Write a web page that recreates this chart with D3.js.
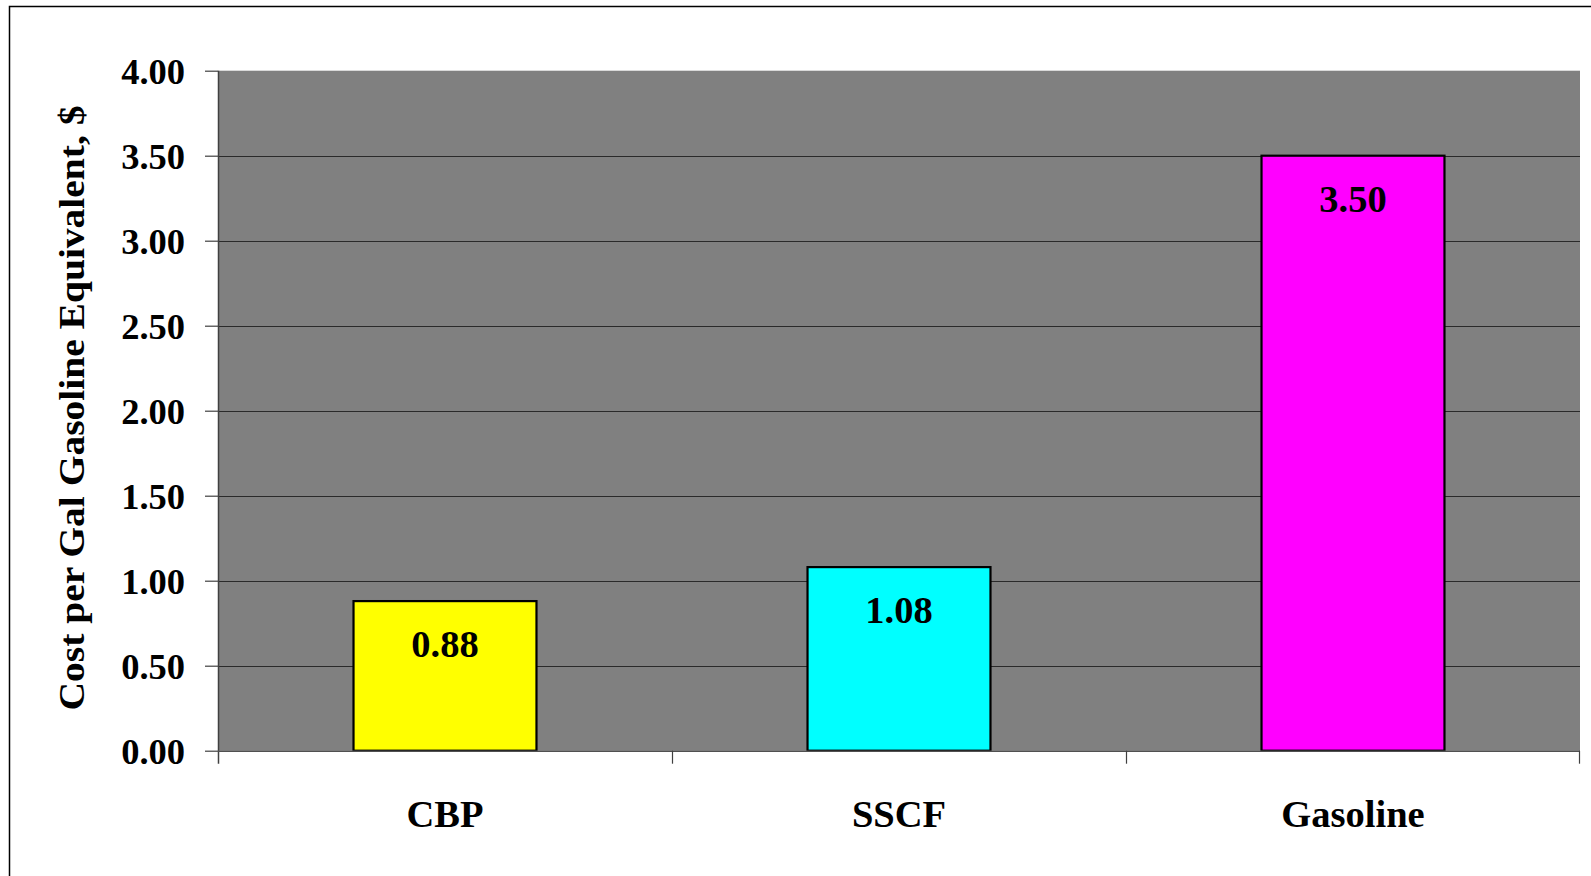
<!DOCTYPE html>
<html><head><meta charset="utf-8">
<script src="https://cdn.jsdelivr.net/npm/d3@7"></script>
<style>html,body{margin:0;padding:0;background:#fff;overflow:hidden}</style>
</head><body>
<svg id="chart" width="1591" height="876"></svg>
<script>
const categories = ["CBP", "SSCF", "Gasoline"];
const values = [0.88, 1.08, 3.50];
const barColors = ["#ffff00", "#00ffff", "#ff00ff"];
const yTicks = [0, 0.5, 1, 1.5, 2, 2.5, 3, 3.5, 4];
const yTitle = "Cost per Gal Gasoline Equivalent, $";

const svg = d3.select("#chart");
const font = "'Liberation Serif', 'Times New Roman', serif";
const m = {left: 218, top: 70.7, right: 1580, bottom: 750.7};

// outer frame
svg.append("rect").attr("x", 9.5).attr("y", 6.5).attr("width", 1600).attr("height", 900)
  .attr("fill", "none").attr("stroke", "#000").attr("stroke-width", 1.5);

const x = d3.scaleBand().domain(categories).range([m.left, m.right]).paddingInner(0).paddingOuter(0);
const y = d3.scaleLinear().domain([0, 4]).range([m.bottom, m.top]);

// plot background
svg.append("rect").attr("x", m.left).attr("y", m.top).attr("width", m.right - m.left)
  .attr("height", m.bottom - m.top).attr("fill", "#808080");

// gridlines
svg.append("g").selectAll("line").data(yTicks.filter(d => d > 0 && d < 4)).join("line")
  .attr("x1", m.left).attr("x2", m.right)
  .attr("y1", d => Math.round(y(d)) + 0.5).attr("y2", d => Math.round(y(d)) + 0.5)
  .attr("stroke", "#2a2a2a").attr("stroke-width", 1.2);

// bars
const bw = x.bandwidth() * 0.403;
svg.append("g").selectAll("rect").data(values).join("rect")
  .attr("x", (d, i) => x(categories[i]) + x.bandwidth() / 2 - bw / 2)
  .attr("y", d => y(d))
  .attr("width", bw)
  .attr("height", d => y(0) - y(d))
  .attr("fill", (d, i) => barColors[i])
  .attr("stroke", "#000").attr("stroke-width", 2.2);

// value labels
svg.append("g").selectAll("text").data(values).join("text")
  .attr("x", (d, i) => x(categories[i]) + x.bandwidth() / 2)
  .attr("y", d => y(d) + 56)
  .attr("text-anchor", "middle")
  .attr("font-family", font).attr("font-weight", "bold").attr("font-size", 38.5)
  .attr("fill", "#000")
  .text(d => d.toFixed(2));

// y axis
const yAxis = d3.axisLeft(y).tickValues(yTicks).tickFormat(d3.format(".2f")).tickSize(13).tickPadding(20);
const gy = svg.append("g").attr("transform", `translate(${m.left},0)`).call(yAxis);
gy.select(".domain").attr("stroke", "#404040").attr("stroke-width", 1.5).attr("d", `M0.5,${m.top}V${m.bottom + 13}`);
gy.selectAll(".tick line").attr("stroke", "#404040").attr("stroke-width", 1.2);
gy.selectAll(".tick text").attr("font-family", font).attr("font-weight", "bold")
  .attr("font-size", 36.5).attr("fill", "#000").attr("dy", "0.36em");

// x axis
const xAxis = d3.axisBottom(x).tickSize(0).tickPadding(0);
const gx = svg.append("g").attr("transform", `translate(0,${m.bottom})`).call(xAxis);
gx.select(".domain").attr("stroke", "#505050").attr("stroke-width", 1.5).attr("d", `M${m.left},0.5H${m.right}`);
gx.selectAll(".tick text").attr("font-family", font).attr("font-weight", "bold")
  .attr("font-size", 38.5).attr("fill", "#000").attr("y", 76).attr("dy", 0);
// category boundary ticks
const bounds = categories.map(c => x(c)).concat([m.right - 1]);
svg.append("g").selectAll("line").data(bounds.slice(1)).join("line")
  .attr("x1", d => Math.round(d) + 0.5).attr("x2", d => Math.round(d) + 0.5)
  .attr("y1", m.bottom).attr("y2", m.bottom + 13)
  .attr("stroke", "#404040").attr("stroke-width", 1.2);

// y title
svg.append("text")
  .attr("transform", `translate(84,408) rotate(-90)`)
  .attr("text-anchor", "middle")
  .attr("font-family", font).attr("font-weight", "bold").attr("font-size", 35)
  .attr("fill", "#000")
  .attr("textLength", 605).attr("lengthAdjust", "spacingAndGlyphs")
  .text(yTitle);
</script>
</body></html>
